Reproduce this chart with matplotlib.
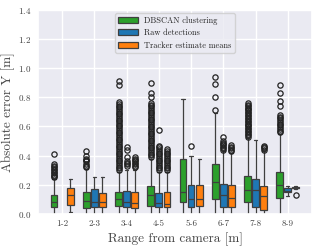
import numpy as np
import matplotlib
matplotlib.use("Agg")
import matplotlib.pyplot as plt
import seaborn as sns
from matplotlib.patches import Patch

# Range bins and box statistics (metres)
ranges = ["1-2", "2-3", "3-4", "4-5", "5-6", "6-7", "7-8", "8-9"]
series = ["DBSCAN clustering", "Raw detections", "Tracker estimate means"]
colors = ["#2ca02c", "#1f77b4", "#ff7f0e"]

# DBSCAN clustering
dbscan_q1 = [0.047, 0.043, 0.053, 0.055, 0.08, 0.10, 0.08, 0.11]
dbscan_med = [0.08, 0.09, 0.10, 0.13, 0.15, 0.22, 0.165, 0.20]
dbscan_q3 = [0.13, 0.15, 0.153, 0.19, 0.375, 0.34, 0.26, 0.29]
dbscan_lo = [0.0, 0.0, 0.0, 0.0, 0.0, 0.0, 0.0, 0.0]
dbscan_hi = [0.24, 0.31, 0.29, 0.38, 0.79, 0.69, 0.52, 0.55]
dbscan_fl = [
    [0.25, 0.26, 0.27, 0.28, 0.29, 0.30, 0.31, 0.32, 0.33, 0.34, 0.41],
    [0.32, 0.33, 0.34, 0.36, 0.37, 0.38, 0.40, 0.43],
    list(np.round(np.arange(0.30, 0.77, 0.012), 3)) + [0.885, 0.915],
    list(np.round(np.arange(0.39, 0.77, 0.012), 3)) + [0.80, 0.83, 0.90],
    [],
    [0.71, 0.80, 0.89, 0.94],
    list(np.round(np.arange(0.53, 0.77, 0.01), 3)),
    list(np.round(np.arange(0.56, 0.69, 0.012), 3)) + [0.74, 0.776, 0.83, 0.885],
]

# Raw detections (no data in 1-2 m)
raw_q1 = [None, 0.048, 0.044, 0.05, 0.05, 0.05, 0.05, 0.149]
raw_med = [None, 0.08, 0.08, 0.078, 0.10, 0.13, 0.165, 0.16]
raw_q3 = [None, 0.17, 0.158, 0.146, 0.20, 0.206, 0.24, 0.176]
raw_lo = [None, 0.0, 0.0, 0.0, 0.0, 0.0, 0.0, 0.12]
raw_hi = [None, 0.25, 0.30, 0.29, 0.40, 0.43, 0.51, 0.19]
raw_fl = [
    [],
    [],
    [0.33, 0.34, 0.35, 0.36, 0.39, 0.44, 0.46],
    list(np.round(np.arange(0.30, 0.47, 0.012), 3)) + [0.577],
    [0.467],
    [0.44, 0.45, 0.46, 0.47, 0.48, 0.49, 0.50, 0.53],
    [],
    [],
]

# Tracker estimate means
trk_q1 = [0.06, 0.048, 0.04, 0.05, 0.055, 0.05, 0.03, 0.175]
trk_med = [0.13, 0.08, 0.073, 0.07, 0.10, 0.11, 0.123, 0.18]
trk_q3 = [0.176, 0.146, 0.15, 0.15, 0.20, 0.20, 0.19, 0.185]
trk_lo = [0.01, 0.0, 0.0, 0.0, 0.0, 0.0, 0.0, 0.168]
trk_hi = [0.24, 0.256, 0.30, 0.29, 0.375, 0.42, 0.43, 0.19]
trk_fl = [
    [],
    [],
    [0.32, 0.33, 0.34, 0.35, 0.36, 0.37, 0.38, 0.39],
    list(np.round(np.arange(0.30, 0.45, 0.012), 3)),
    [],
    [0.43, 0.44, 0.45, 0.46, 0.47],
    [0.44, 0.45, 0.46, 0.467],
    [0.13],
]

sns.set_theme(style="darkgrid")
plt.rcParams["font.family"] = ["cmr10", "DejaVu Serif"]
plt.rcParams["mathtext.fontset"] = "cm"
plt.rcParams["axes.formatter.use_mathtext"] = True

fig = plt.figure(figsize=(3.19, 2.49), dpi=100)
ax = fig.add_axes([0.119, 0.141, 0.859, 0.819])

hue_data = [
    (dbscan_q1, dbscan_med, dbscan_q3, dbscan_lo, dbscan_hi, dbscan_fl),
    (raw_q1, raw_med, raw_q3, raw_lo, raw_hi, raw_fl),
    (trk_q1, trk_med, trk_q3, trk_lo, trk_hi, trk_fl),
]
offsets = [-0.25, 0.0, 0.25]
edge = "#3f3f3f"

for (q1, med, q3, lo, hi, fl), off, col in zip(hue_data, offsets, colors):
    stats, pos = [], []
    for i in range(len(ranges)):
        if med[i] is None:
            continue
        stats.append(dict(q1=q1[i], med=med[i], q3=q3[i],
                          whislo=lo[i], whishi=hi[i], fliers=fl[i]))
        pos.append(i + off)
    ax.bxp(stats, positions=pos, widths=0.21, patch_artist=True,
           boxprops=dict(facecolor=col, edgecolor=edge, linewidth=0.9),
           medianprops=dict(color=edge, linewidth=0.9),
           whiskerprops=dict(color=edge, linewidth=0.9),
           capprops=dict(color=edge, linewidth=0.9),
           capwidths=0.1,
           flierprops=dict(marker="o", markersize=3.8, markerfacecolor="none",
                           markeredgecolor="#222222", markeredgewidth=0.9))

ax.set_xlim(-0.75, 7.75)
ax.set_ylim(0, 1.4)
ax.set_xticks(range(len(ranges)))
ax.set_xticklabels(ranges)
ax.set_yticks(np.arange(0, 1.41, 0.2))
ax.tick_params(axis="both", labelsize=6.5, colors="#444444", length=0)
ax.tick_params(axis="x", pad=4)
ax.tick_params(axis="y", pad=5)
ax.set_xlabel("Range from camera [m]", fontsize=9.5, color="#444444", labelpad=3)
ax.set_ylabel("Absolute error Y [m]", fontsize=9.5, color="#444444", labelpad=2)

handles = [Patch(facecolor=c, edgecolor=edge, linewidth=0.9) for c in colors]
ax.legend(handles, series, loc="upper center", fontsize=6.0,
          handlelength=2.3, handleheight=0.8, borderaxespad=0.35)

fig.savefig("out.png", dpi=100)
